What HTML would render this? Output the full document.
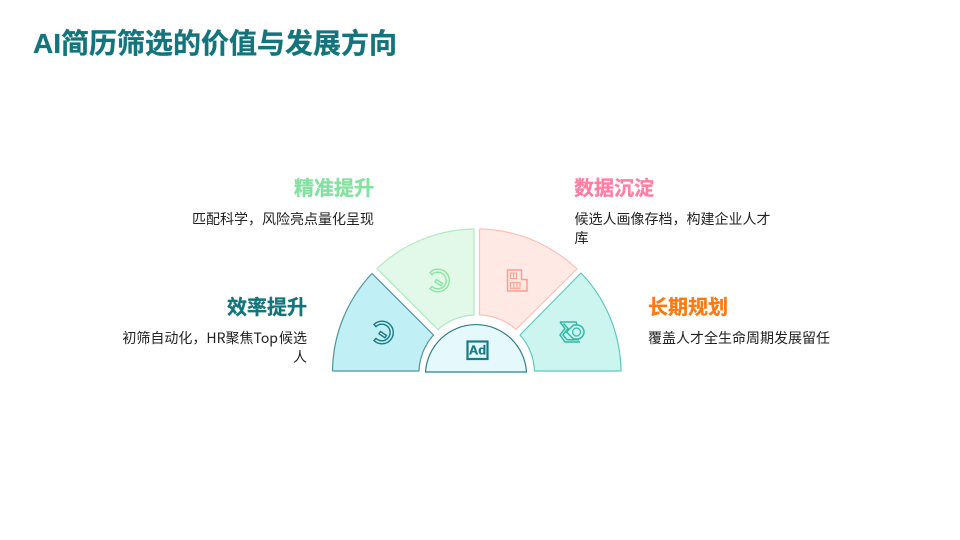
<!DOCTYPE html>
<html lang="zh">
<head>
<meta charset="utf-8">
<style>
html,body{margin:0;padding:0;background:#fff}
body{width:960px;height:540px;position:relative;overflow:hidden;font-family:"Noto Sans CJK SC","Liberation Sans",sans-serif}
.t{position:absolute;white-space:nowrap}
.title{left:33px;top:23px;font-family:"Liberation Sans","Noto Sans CJK SC",sans-serif;font-size:28px;line-height:42px;font-weight:700;color:#13747c;-webkit-text-stroke:.3px #13747c}
.h{font-size:20px;line-height:28px;font-weight:700;-webkit-text-stroke:.3px currentColor}
.d{font-size:14px;line-height:19px;color:#222}
.r{text-align:right}
svg{position:absolute;left:0;top:0}
</style>
</head>
<body>
<div class="t title">AI简历筛选的价值与发展方向</div>

<svg width="960" height="540" viewBox="0 0 960 540">
  <path d="M332.5 371 A144 144 0 0 1 372 273.5 L433.5 335 A58 58 0 0 0 419 371 Z" fill="#c0eff5" stroke="#4f94a0" stroke-width="1.2" stroke-linejoin="round"/>
  <path d="M377 268.5 A144 144 0 0 1 474 229 L474 315 A58 58 0 0 0 438 329.5 Z" fill="#e2f8e8" stroke="#aeeabf" stroke-width="1.2" stroke-linejoin="round"/>
  <path d="M479.5 229 A144 144 0 0 1 577 269 L516 329.5 A58 58 0 0 0 479.5 315 Z" fill="#ffe9e5" stroke="#ffc0b4" stroke-width="1.2" stroke-linejoin="round"/>
  <path d="M581 273 A144 144 0 0 1 621 371 L534.5 371 A58 58 0 0 0 520 335 Z" fill="#ccf5ef" stroke="#5ccabb" stroke-width="1.2" stroke-linejoin="round"/>
  <path d="M425.5 372 A50.6 50.6 0 0 1 526.5 372 Z" fill="#e5f9fd" stroke="#2f7f8c" stroke-width="1.2" stroke-linejoin="round"/>

  <!-- blue icon -->
  <g fill="none" stroke="#1a7a85" stroke-width="1.4">
    <path d="M374 324.5 A11.3 11.3 0 1 1 374 340.5 L376 338.4 A8.3 8.3 0 1 0 376 326.6 Z"/>
    <path d="M380.5 331.5 L386.5 335.5 L385 337.8 L379 333.8 Z"/>
  </g>
  <!-- green icon -->
  <g fill="none" stroke="#8be5a4" stroke-width="1.4">
    <path d="M430 272.5 A11.3 11.3 0 1 1 430 288.5 L432 286.4 A8.3 8.3 0 1 0 432 274.6 Z"/>
    <path d="M436.5 279.5 L442.5 283.5 L441 285.8 L435 281.8 Z"/>
  </g>
  <!-- red icon -->
  <g fill="none" stroke="#ff9e8e" stroke-width="1.5">
    <path d="M507.5 270 H521.5 V279.5 H527 V291 H507.5 Z"/>
    <path d="M510.5 273 H516.5 V278.5 H510.5 Z M513.5 273 V278.5" stroke-width="1.1"/>
    <path d="M510.5 282.7 H520 V288.3 H510.5 Z M513.7 282.7 V288.3 M516.9 282.7 V288.3" stroke-width="1.1"/>
  </g>
  <!-- teal icon -->
  <g fill="none" stroke="#33b8a6" stroke-width="1.5">
    <path d="M560 322 H576 L577 325"/>
    <path d="M560 322 L565 328.5 L560 335 L565 342 H580"/>
    <path d="M563.5 323.5 L568 328.5 L563 335 L567 339.7 H579"/>
    <path d="M566.5 332 L573.5 325 H577 A7 7 0 0 1 577 339 H573.5 Z"/>
    <circle cx="576.5" cy="332" r="4" stroke-width="1.2"/>
  </g>
  <!-- Ad icon -->
  <rect x="467.5" y="341.5" width="20" height="17.5" fill="none" stroke="#1a7a85" stroke-width="2.2"/>
  <text x="477.5" y="354.5" text-anchor="middle" font-family="'Liberation Sans',sans-serif" font-size="13" font-weight="700" fill="#1a7a85" stroke="#1a7a85" stroke-width=".3">Ad</text>
</svg>

<div class="t h r" style="right:586px;top:173px;color:#84e1a0">精准提升</div>
<div class="t d r" style="right:586px;top:210px">匹配科学，风险亮点量化呈现</div>

<div class="t h r" style="right:653px;top:292px;color:#13747c">效率提升</div>
<div class="t d r" style="right:653px;top:329px">初筛自动化，HR聚焦Top<span style="margin-left:1px">候选</span><br>人</div>

<div class="t h" style="left:574px;top:173px;color:#ff7fa3">数据沉淀</div>
<div class="t d" style="left:574.5px;top:210px">候选人画像存档，构建企业人才<br>库</div>

<div class="t h" style="left:648px;top:292px;color:#f97a12">长期规划</div>
<div class="t d" style="left:648px;top:329px">覆盖人才全生命周期发展留任</div>
</body>
</html>
